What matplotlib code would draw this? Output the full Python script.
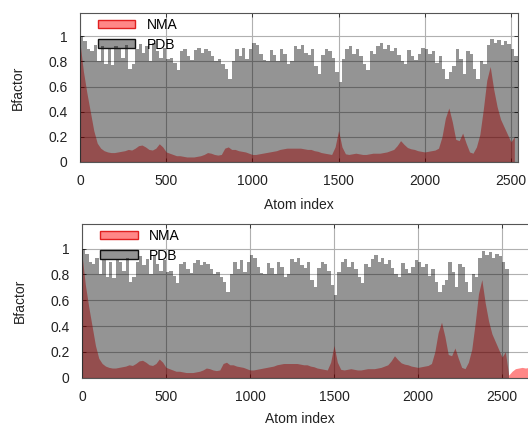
import numpy as np
import matplotlib
matplotlib.use("Agg")
import matplotlib.pyplot as plt
from matplotlib.patches import Patch

plt.rcParams['font.family'] = ['Liberation Sans', 'DejaVu Sans']

# Per-atom B-factors sampled every 20 atoms
bin_width = 20
pdb_bfactor = [
    1.00, 0.96, 0.90, 0.88, 0.93, 0.80, 0.92, 0.78, 0.90, 0.77,
    0.92, 0.90, 0.83, 0.93, 0.74, 0.78, 0.90, 0.94, 0.87, 0.92,
    0.80, 0.95, 0.88, 0.83, 0.91, 0.82, 0.83, 0.79, 0.73, 0.88,
    0.90, 0.84, 0.81, 0.89, 0.91, 0.87, 0.90, 0.88, 0.84, 0.80,
    0.82, 0.78, 0.74, 0.66, 0.80, 0.90, 0.84, 0.91, 0.82, 0.90,
    0.95, 0.93, 0.86, 0.81, 0.80, 0.89, 0.85, 0.80, 0.90, 0.86,
    0.78, 0.80, 0.92, 0.90, 0.93, 0.87, 0.85, 0.90, 0.76, 0.70,
    0.85, 0.90, 0.88, 0.83, 0.72, 0.64, 0.82, 0.90, 0.92, 0.86,
    0.90, 0.84, 0.78, 0.73, 0.88, 0.86, 0.92, 0.95, 0.90, 0.93,
    0.88, 0.91, 0.85, 0.80, 0.78, 0.89, 0.84, 0.81, 0.86, 0.91,
    0.90, 0.86, 0.88, 0.79, 0.84, 0.74, 0.66, 0.72, 0.76, 0.90,
    0.82, 0.70, 0.88, 0.86, 0.74, 0.66, 0.80, 0.78, 0.93, 0.98,
    0.95, 0.97, 0.93, 0.96, 0.94, 0.90, 0.84,
]
nma_bfactor = [
    0.95, 0.72, 0.55, 0.40, 0.25, 0.15, 0.11, 0.09, 0.08, 0.075,
    0.075, 0.08, 0.085, 0.09, 0.10, 0.095, 0.11, 0.13, 0.135, 0.12,
    0.10, 0.095, 0.11, 0.145, 0.12, 0.08, 0.07, 0.06, 0.05, 0.05,
    0.045, 0.04, 0.04, 0.04, 0.045, 0.05, 0.06, 0.075, 0.07, 0.06,
    0.055, 0.06, 0.11, 0.12, 0.10, 0.10, 0.09, 0.085, 0.08, 0.07,
    0.06, 0.06, 0.065, 0.07, 0.075, 0.08, 0.085, 0.09, 0.10, 0.105,
    0.11, 0.11, 0.11, 0.11, 0.11, 0.105, 0.10, 0.10, 0.09, 0.085,
    0.075, 0.07, 0.065, 0.06, 0.12, 0.25, 0.12, 0.065, 0.06, 0.065,
    0.07, 0.065, 0.06, 0.06, 0.065, 0.07, 0.07, 0.07, 0.075, 0.08,
    0.09, 0.10, 0.13, 0.17, 0.14, 0.115, 0.105, 0.10, 0.09, 0.085,
    0.08, 0.085, 0.09, 0.095, 0.11, 0.20, 0.35, 0.43, 0.32, 0.18,
    0.17, 0.23, 0.15, 0.08, 0.07, 0.12, 0.22, 0.42, 0.65, 0.76,
    0.58, 0.44, 0.34, 0.28, 0.22, 0.16, 0.20,
]
# Extra NMA atoms beyond the PDB chain
nma_tail = [0.02, 0.05, 0.07, 0.075, 0.08, 0.075, 0.08]

x_ticks = [0, 500, 1000, 1500, 2000, 2500]
y_ticks = [0, 0.2, 0.4, 0.6, 0.8, 1.0]
y_tick_labels = ["0", "0.2", "0.4", "0.6", "0.8", "1"]

pdb_edges = np.arange(len(pdb_bfactor) + 1) * bin_width
nma_full = nma_bfactor + nma_tail

NMA_FACE = (1.0, 0.0, 0.0, 0.47)
PDB_FACE = (0.0, 0.0, 0.0, 0.42)
FS = 10
TEXT = '#222222'

fig = plt.figure(figsize=(5.28, 4.28), dpi=100)

panels = [
    # axes rect, x limit, y limit, NMA series, x-label position
    ([0.1515, 0.6215, 0.8295, 0.348], 2541, 1.185, nma_bfactor, (0.5, -0.29)),
    ([0.1553, 0.1175, 0.8591, 0.359], 2700, 1.19, nma_full, (0.48, -0.27)),
]

for rect, xmax, ymax, nma, xlab_pos in panels:
    ax = fig.add_axes(rect)
    nma_x = np.arange(len(nma)) * bin_width
    ax.fill_between(nma_x, 0, nma, color=NMA_FACE, linewidth=0, zorder=2)
    ax.stairs(pdb_bfactor, pdb_edges, fill=True, color=PDB_FACE,
              linewidth=0, zorder=3)

    ax.set_xlim(0, xmax)
    ax.set_ylim(0, ymax)
    ax.set_xticks(x_ticks)
    ax.set_yticks(y_ticks)
    ax.set_yticklabels(y_tick_labels)
    ax.tick_params(direction='in', length=3, width=0.6, labelsize=FS,
                   top=True, right=True, colors=TEXT)
    ax.tick_params(axis='x', pad=9)
    ax.tick_params(axis='y', pad=9)
    ax.set_axisbelow(True)
    ax.grid(True, color='#b0b0b0', linewidth=0.8)
    for sp in ax.spines.values():
        sp.set_linewidth(0.8)
        sp.set_color('#555555')
    ax.set_xlabel("Atom index", fontsize=FS, color=TEXT, va='center')
    ax.xaxis.set_label_coords(*xlab_pos)
    ax.set_ylabel("Bfactor", fontsize=FS, labelpad=17, color=TEXT)

    handles = [
        Patch(facecolor=NMA_FACE, edgecolor='#e02020', linewidth=1.0, label="NMA"),
        Patch(facecolor=PDB_FACE, edgecolor='#111111', linewidth=1.0, label="PDB"),
    ]
    ax.legend(handles=handles, loc='upper left', bbox_to_anchor=(0.028, 1.005),
              frameon=False, fontsize=FS, handlelength=2.7, handleheight=0.6,
              labelspacing=0.42, handletextpad=0.8, borderaxespad=0.0)

fig.savefig("out.png", dpi=100)
